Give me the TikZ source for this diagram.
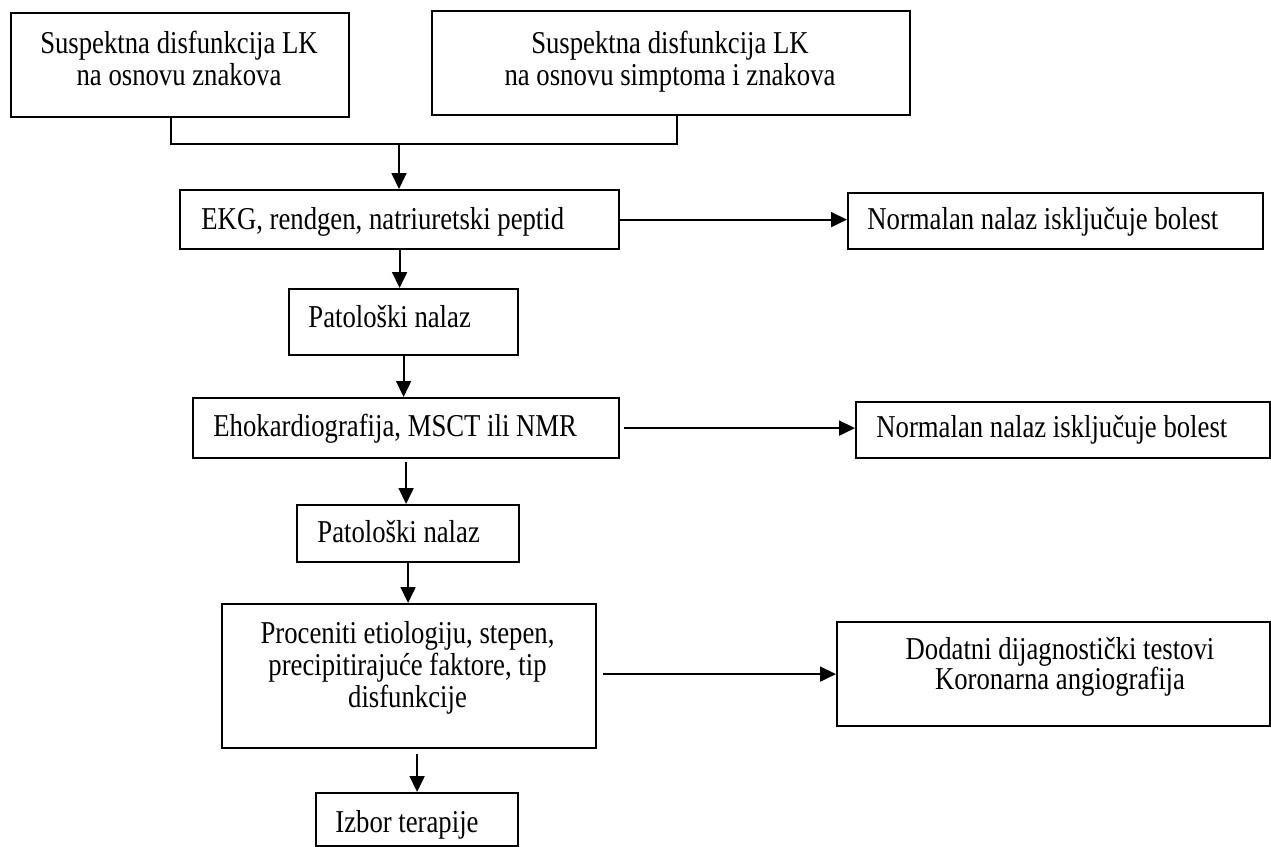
\documentclass[tikz,border=0pt]{standalone}
\usepackage{fontspec}
\setmainfont{Liberation Serif}[FakeStretch=0.84]
\usetikzlibrary{arrows.meta}
\newcommand{\fsz}{\fontsize{15.9pt}{15.9pt}\selectfont}
\newcommand{\tstrut}{\rule{0pt}{12pt}}

\begin{document}
\begin{tikzpicture}[x=0.5pt,y=-0.5pt,
  box/.style={draw, line width=1.1pt, inner sep=0pt, anchor=north west},
  txt/.style={inner sep=0pt, font=\fsz, anchor=north west},
  ctxt/.style={inner sep=0pt, font=\fsz, anchor=north, align=center},
  link/.style={line width=0.9pt},
  arr/.style={line width=0.9pt, -{Triangle[length=8pt,width=7.5pt]}}]
\useasboundingbox (0,0) rectangle (1271,847);

% frames
\node[box, minimum width=169pt,   minimum height=52pt]   (b1) at (10,12)   {};
\node[box, minimum width=239pt,   minimum height=52pt]   (b2) at (431,10)  {};
\node[box, minimum width=219.5pt, minimum height=29.5pt] (b3) at (179,189) {};
\node[box, minimum width=207.5pt, minimum height=28pt]   (n1) at (847,192) {};
\node[box, minimum width=114.5pt, minimum height=33pt]   (p1) at (288,288) {};
\node[box, minimum width=213pt,   minimum height=30pt]   (eh) at (192,397) {};
\node[box, minimum width=207pt,   minimum height=28pt]   (n2) at (855,401) {};
\node[box, minimum width=111pt,   minimum height=28.5pt] (p2) at (296,504) {};
\node[box, minimum width=187pt,   minimum height=72pt]   (pr) at (221,603) {};
\node[box, minimum width=216.5pt, minimum height=52pt]   (dd) at (836,621) {};
\node[box, minimum width=101pt,   minimum height=26.5pt] (iz) at (315,792) {};

% labels (each placed 24 units above its first baseline)
\node[ctxt] (t1) at (179,29.5) {\tstrut Suspektna disfunkcija LK\\na osnovu znakova};
\node[ctxt] (t2) at (670,29)   {\tstrut Suspektna disfunkcija LK\\na osnovu simptoma i znakova};
\node[txt]  (t3) at (201,205)  {\tstrut EKG, rendgen, natriuretski peptid};
\node[txt]  (tn1) at (867,205) {\tstrut Normalan nalaz isključuje bolest};
\node[txt]  (tp1) at (308,303) {\tstrut Patološki nalaz};
\node[txt]  (te) at (213,412)  {\tstrut Ehokardiografija, MSCT ili NMR};
\node[txt]  (tn2) at (876,413) {\tstrut Normalan nalaz isključuje bolest};
\node[txt]  (tp2) at (317,518) {\tstrut Patološki nalaz};
\node[ctxt] (tpr) at (407.5,619) {\tstrut Proceniti etiologiju, stepen,\\precipitirajuće faktore, tip\\disfunkcije};
\node[ctxt, font=\fontsize{15.9pt}{15pt}\selectfont] (tdd) at (1060,635)
  {\tstrut Dodatni dijagnostički testovi\\Koronarna angiografija};
\node[txt]  (tiz) at (335,808) {\tstrut Izbor terapije};

% connectors
\coordinate (join) at (399,144);
\draw[link] ([xshift=-4.5pt]b1.south) |- (join) -| ([xshift=3pt]b2.south);
\draw[arr] (join) -- (join |- b3.north);
\draw[arr] (b3.east) -- (b3.east -| n1.west);
\draw[arr] (b3.south) -- (b3.south |- p1.north);
\draw[arr] (p1.south) -- (p1.south |- eh.north);
\draw[arr, shorten <=2pt] (eh.east) -- (eh.east -| n2.west);
\draw[arr, shorten <=1.5pt] (eh.south) -- (eh.south |- p2.north);
\draw[arr] (p2.south) -- (p2.south |- pr.north);
\draw[arr, shorten <=3pt] (pr.east |- dd.west) -- (dd.west);
\draw[arr, shorten <=2.5pt] (iz.north |- pr.south) -- (iz.north);
\end{tikzpicture}
\end{document}
